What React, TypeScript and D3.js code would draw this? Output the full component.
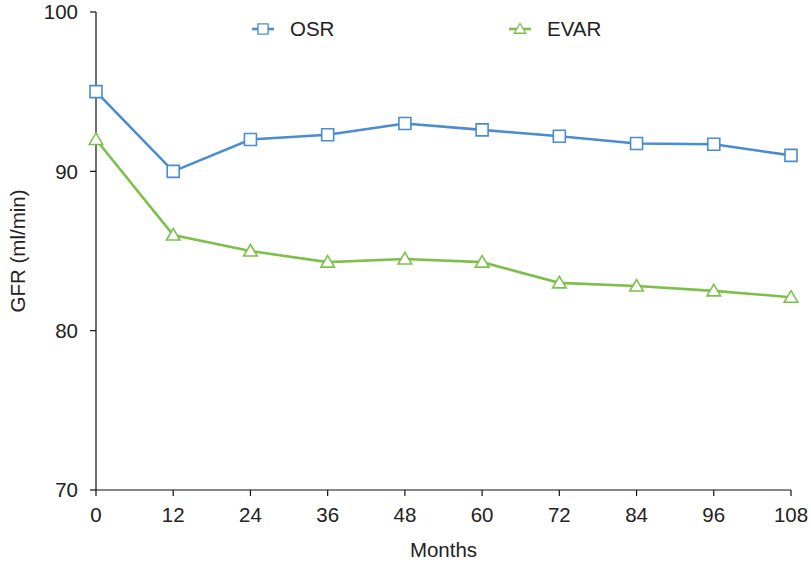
import * as d3 from 'd3';
import { useEffect } from 'react';

const WIDTH = 811;
const HEIGHT = 564;
const MARGIN = { top: 12, right: 20, bottom: 74, left: 96 };

const months = [0, 12, 24, 36, 48, 60, 72, 84, 96, 108];
const osr = [95.0, 90.0, 92.0, 92.3, 93.0, 92.6, 92.2, 91.75, 91.7, 91.0];
const evar = [92.0, 86.0, 85.0, 84.3, 84.5, 84.3, 83.0, 82.8, 82.5, 82.1];
const yTicks = [70, 80, 90, 100];

const BLUE = '#4a8ccf';
const GREEN = '#7cc04a';
const FONT = '"Liberation Sans", Arial, Helvetica, sans-serif';
const FONT_SIZE = 20.5;

const square = 'M-6,-6H6V6H-6Z';
const triangle = 'M0,-6.5L6.8,5L-6.8,5Z';

const App = () => {
  useEffect(() => {
    document.body.style.margin = '0';
  }, []);

  const boundsWidth = WIDTH - MARGIN.left - MARGIN.right;
  const boundsHeight = HEIGHT - MARGIN.top - MARGIN.bottom;

  const xScale = d3.scaleLinear().domain([0, 108]).range([0, boundsWidth]);
  const yScale = d3.scaleLinear().domain([70, 100]).range([boundsHeight, 0]);

  const line = d3
    .line<number>()
    .x((_, i) => xScale(months[i]))
    .y((d) => yScale(d));

  const series = [
    { name: 'OSR', values: osr, color: BLUE, marker: square },
    { name: 'EVAR', values: evar, color: GREEN, marker: triangle },
  ];

  const legendX = [263, 520];

  return (
    <svg width={WIDTH} height={HEIGHT} style={{ display: 'block' }} fontFamily={FONT}>
      <rect width={WIDTH} height={HEIGHT} fill="white" />
      <g transform={`translate(${MARGIN.left},${MARGIN.top})`}>
        {/* y axis */}
        <line x1={0} x2={0} y1={0} y2={boundsHeight} stroke="#111" strokeWidth={1.2} />
        {yTicks.map((t) => (
          <g key={t} transform={`translate(0,${yScale(t)})`}>
            <line x1={-6} x2={0} stroke="#111" strokeWidth={1.2} />
            <text x={-18} dy="0.36em" textAnchor="end" fontSize={FONT_SIZE} fill="#222">
              {t}
            </text>
          </g>
        ))}
        {/* x axis */}
        <line x1={0} x2={boundsWidth} y1={boundsHeight} y2={boundsHeight} stroke="#111" strokeWidth={1.2} />
        {months.map((m) => (
          <g key={m} transform={`translate(${xScale(m)},${boundsHeight})`}>
            <line y1={0} y2={6} stroke="#111" strokeWidth={1.2} />
            <text y={32} textAnchor="middle" fontSize={FONT_SIZE} fill="#222">
              {m}
            </text>
          </g>
        ))}
        <text
          x={boundsWidth / 2}
          y={boundsHeight + 67}
          textAnchor="middle"
          fontSize={FONT_SIZE}
          fill="#222"
        >
          Months
        </text>
        <text
          transform={`translate(${-71},${boundsHeight / 2}) rotate(-90)`}
          textAnchor="middle"
          fontSize={FONT_SIZE}
          fill="#222"
        >
          GFR (ml/min)
        </text>

        {series.map((s) => (
          <g key={s.name}>
            <path d={line(s.values) || ''} fill="none" stroke={s.color} strokeWidth={2.6} />
            {s.values.map((v, i) => (
              <path
                key={i}
                d={s.marker}
                transform={`translate(${xScale(months[i])},${yScale(v)})`}
                fill="white"
                stroke={s.color}
                strokeWidth={1.6}
              />
            ))}
          </g>
        ))}
      </g>

      {/* legend */}
      {series.map((s, i) => (
        <g key={s.name} transform={`translate(${legendX[i]},29)`}>
          <line x1={-11} x2={11} stroke={s.color} strokeWidth={2.6} />
          <path d={s.marker} fill="white" stroke={s.color} strokeWidth={1.6} transform="scale(0.85)" />
          <text x={27} dy="0.36em" fontSize={FONT_SIZE} fill="#222">
            {s.name}
          </text>
        </g>
      ))}
    </svg>
  );
};

export default App;
